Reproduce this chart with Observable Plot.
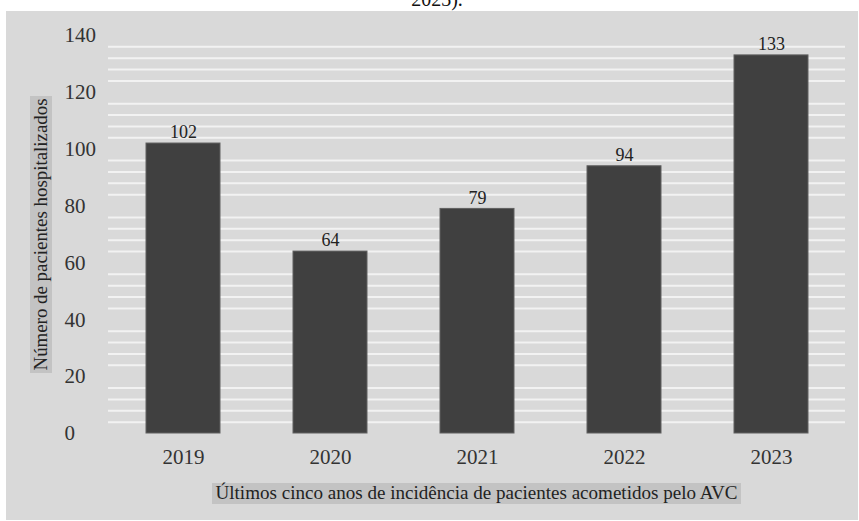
<!DOCTYPE html>
<html>
<head>
<meta charset="utf-8">
<script src="https://cdn.jsdelivr.net/npm/d3@7"></script>
<script src="https://cdn.jsdelivr.net/npm/@observablehq/plot@0.6"></script>
<style>
  html, body { margin: 0; padding: 0; background: #ffffff; }
  #chart svg { display: block; }
</style>
</head>
<body>
<div id="chart"></div>
<script>
const years = ["2019", "2020", "2021", "2022", "2023"];
const patients = [102, 64, 79, 94, 133];
const yTicks = [0, 20, 40, 60, 80, 100, 120, 140];
const gridLines = [4, 8, 12, 16, 24, 28, 32, 36, 44, 48, 52, 56, 64, 68, 72, 76, 84, 88, 92, 96, 104, 108, 112, 116, 124, 128, 132, 136];
const xTitle = "Últimos cinco anos de incidência de pacientes acometidos pelo AVC";
const yTitle = "Número de pacientes hospitalizados";
const topText = "2023).";

const data = years.map((year, i) => ({year, value: patients[i]}));
const FONT = "'Liberation Serif', 'DejaVu Serif', serif";

const svg = Plot.plot({
  width: 859,
  height: 521,
  marginLeft: 108,
  marginRight: 14,
  marginTop: 35,
  marginBottom: 88,
  style: {fontFamily: FONT, fontSize: "20px", background: "transparent", color: "#333"},
  x: {domain: years, paddingInner: 0.5, paddingOuter: 0.25, label: null},
  y: {domain: [0, 140], label: null},
  marks: [
    Plot.ruleY(gridLines, {stroke: "#f2f2f2", strokeWidth: 2}),
    Plot.barY(data, {x: "year", y: "value", fill: "#404040", stroke: "#606060", strokeWidth: 1}),
    Plot.text(data, {x: "year", y: "value", text: d => String(d.value), dy: -11, fontSize: 18, fill: "#222"}),
    Plot.axisY(yTicks, {tickSize: 0, tickPadding: 44, textAnchor: "start", fontSize: 21, fill: "#333", label: null}),
    Plot.axisX({tickSize: 0, tickPadding: 16, fontSize: 21, fill: "#333", label: null})
  ]
});

document.getElementById("chart").appendChild(svg);

const s = d3.select(svg);
// grey panel behind everything
s.insert("rect", ":first-child")
  .attr("x", 6).attr("y", 11).attr("width", 852).attr("height", 509)
  .attr("fill", "#d9d9d9");

// cut-off caption line at top (as in the reference)
s.append("text")
  .attr("x", 437).attr("y", 6)
  .attr("text-anchor", "middle")
  .attr("font-family", FONT).attr("font-size", 20).attr("fill", "#111")
  .text(topText);

// x title with background box
s.append("rect").attr("x", 212).attr("y", 483).attr("width", 529).attr("height", 21).attr("fill", "#c3c3c3");
s.append("text")
  .attr("x", 476.5).attr("y", 499)
  .attr("text-anchor", "middle")
  .attr("font-family", FONT).attr("font-size", 18).attr("fill", "#222")
  .attr("textLength", 522).attr("lengthAdjust", "spacingAndGlyphs")
  .text(xTitle);

// y title with background box
s.append("rect").attr("x", 30).attr("y", 96).attr("width", 22).attr("height", 277).attr("fill", "#c3c3c3");
s.append("text")
  .attr("transform", "translate(47,234.5) rotate(-90)")
  .attr("text-anchor", "middle")
  .attr("font-family", FONT).attr("font-size", 18).attr("fill", "#222")
  .attr("textLength", 272).attr("lengthAdjust", "spacingAndGlyphs")
  .text(yTitle);
</script>
</body>
</html>
